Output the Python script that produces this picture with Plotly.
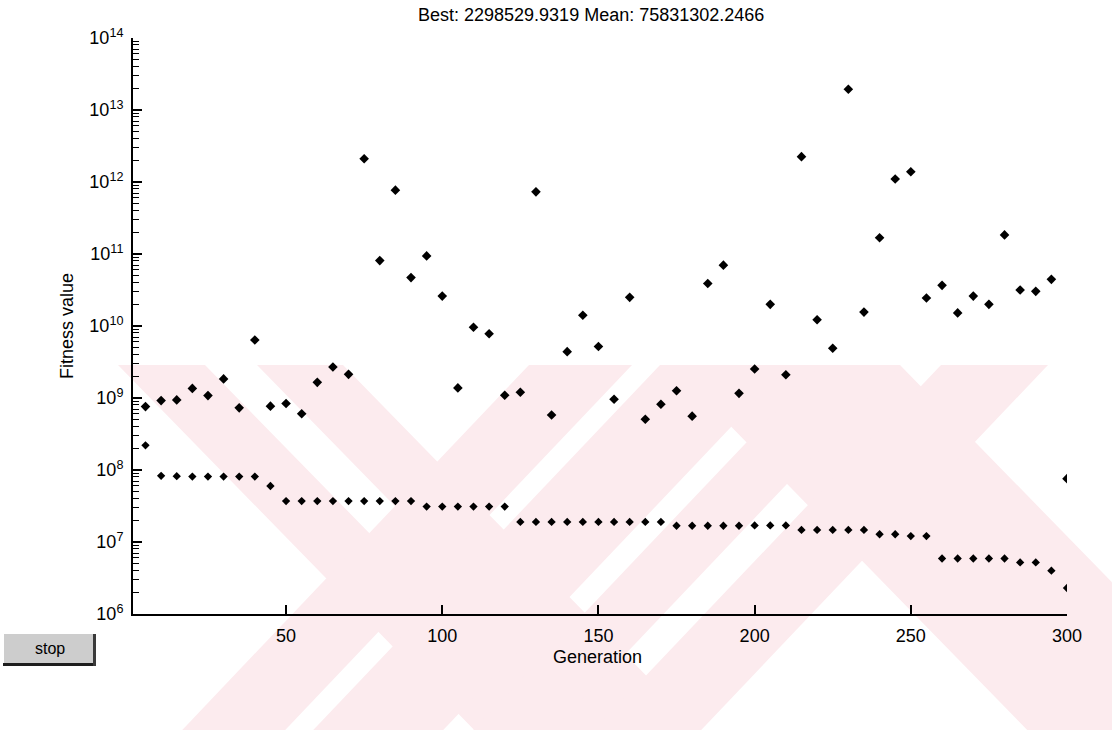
import plotly.graph_objects as go

# ---------------- data ----------------
generations = [5, 10, 15, 20, 25, 30, 35, 40, 45, 50,
               55, 60, 65, 70, 75, 80, 85, 90, 95, 100,
               105, 110, 115, 120, 125, 130, 135, 140, 145, 150,
               155, 160, 165, 170, 175, 180, 185, 190, 195, 200,
               205, 210, 215, 220, 225, 230, 235, 240, 245, 250,
               255, 260, 265, 270, 275, 280, 285, 290, 295, 300]

best_fitness = [2.2e8, 8.3e7, 8.2e7, 8.1e7, 8.1e7, 8.1e7, 8.1e7, 8.1e7, 6.0e7, 3.7e7,
                3.7e7, 3.7e7, 3.7e7, 3.7e7, 3.7e7, 3.7e7, 3.7e7, 3.7e7, 3.1e7, 3.1e7,
                3.1e7, 3.1e7, 3.1e7, 3.1e7, 1.9e7, 1.9e7, 1.9e7, 1.9e7, 1.9e7, 1.9e7,
                1.9e7, 1.9e7, 1.9e7, 1.9e7, 1.68e7, 1.68e7, 1.68e7, 1.68e7, 1.68e7, 1.7e7,
                1.7e7, 1.7e7, 1.47e7, 1.47e7, 1.47e7, 1.47e7, 1.47e7, 1.28e7, 1.28e7, 1.21e7,
                1.21e7, 5.9e6, 5.9e6, 5.9e6, 5.9e6, 5.9e6, 5.2e6, 5.2e6, 4.0e6, 2298529.9319]

mean_fitness = [7.6e8, 9.2e8, 9.4e8, 1.36e9, 1.08e9, 1.84e9, 7.3e8, 6.4e9, 7.7e8, 8.4e8,
                6.05e8, 1.65e9, 2.7e9, 2.13e9, 2.1e12, 8.1e10, 7.7e11, 4.7e10, 9.4e10, 2.6e10,
                1.38e9, 9.6e9, 7.8e9, 1.09e9, 1.2e9, 7.3e11, 5.8e8, 4.4e9, 1.41e10, 5.2e9,
                9.6e8, 2.5e10, 5.06e8, 8.2e8, 1.26e9, 5.6e8, 3.9e10, 7.0e10, 1.16e9, 2.53e9,
                2.0e10, 2.1e9, 2.25e12, 1.22e10, 4.9e9, 1.94e13, 1.56e10, 1.68e11, 1.1e12, 1.39e12,
                2.45e10, 3.67e10, 1.52e10, 2.6e10, 2.0e10, 1.84e11, 3.16e10, 3.03e10, 4.45e10, 75831302.2466]

y_tick_values = [1e6, 1e7, 1e8, 1e9, 1e10, 1e11, 1e12, 1e13, 1e14]
y_tick_labels = ["10<sup>6</sup>", "10<sup>7</sup>", "10<sup>8</sup>", "10<sup>9</sup>",
                 "10<sup>10</sup>", "10<sup>11</sup>", "10<sup>12</sup>", "10<sup>13</sup>",
                 "10<sup>14</sup>"]
x_tick_values = [50, 100, 150, 200, 250, 300]
x_tick_labels = ["50", "100", "150", "200", "250", "300"]

title_text = "Best: 2298529.9319 Mean: 75831302.2466"

# ---------------- layout geometry ----------------
W, H = 1112, 730
ML, MR, MT, MB = 133, 45, 38, 116
PW, PH = W - ML - MR, H - MT - MB


def px(x):
    return (x - ML) / PW


def py(y):
    return (H - MB - y) / PH


FONT = "Liberation Sans, Arial, sans-serif"

fig = go.Figure()
fig.add_trace(go.Scatter(x=generations, y=mean_fitness, mode="markers",
                         marker=dict(symbol="diamond", size=7.4, color="black"),
                         name="Mean fitness", showlegend=False, hoverinfo="x+y"))
fig.add_trace(go.Scatter(x=generations, y=best_fitness, mode="markers",
                         marker=dict(symbol="diamond", size=6.4, color="black"),
                         name="Best fitness", showlegend=False, hoverinfo="x+y"))

# ---------------- faint background watermark ----------------
PINK = "#fcebee"
Y0, Y1 = 365, 730
shapes = []


def poly(pts, color):
    path = "M " + " L ".join(f"{px(x):.5f},{py(y):.5f}" for x, y in pts) + " Z"
    return dict(type="path", xref="paper", yref="paper", path=path,
                fillcolor=color, line=dict(width=0), layer="below")


def band(a, b, slope):
    d = Y1 - Y0
    return poly([(a, Y0), (b, Y0), (b + slope * d, Y1), (a + slope * d, Y1)], PINK)


for a, b in [(118, 343), (671, 900)]:
    shapes.append(band(a, b, 0.976))
# tapered white strip inside the left "\" stroke
shapes.append(poly([(205, Y0), (257, Y0), (428, 540), (376, 540)], "white"))
for a, b in [(529, 632), (660, 790), (820, 900), (941, 1048)]:
    shapes.append(band(a, b, -0.95))

# ---------------- "stop" button ----------------
shapes.append(dict(type="rect", xref="paper", yref="paper",
                   x0=px(4), x1=px(96), y0=py(666), y1=py(634),
                   fillcolor="#cdcdcd", line=dict(width=0), layer="above"))
shapes.append(dict(type="rect", xref="paper", yref="paper",
                   x0=px(3), x1=px(96), y0=py(666), y1=py(663),
                   fillcolor="#1e1e1e", line=dict(width=0), layer="above"))
shapes.append(dict(type="rect", xref="paper", yref="paper",
                   x0=px(93), x1=px(96), y0=py(666), y1=py(634),
                   fillcolor="#3a3a3a", line=dict(width=0), layer="above"))

annotations = [
    dict(text=title_text, xref="paper", yref="paper", x=px(591), y=py(15),
         xanchor="center", yanchor="middle", showarrow=False,
         font=dict(family=FONT, size=18, color="black")),
    dict(text="Generation", xref="paper", yref="paper", x=px(597), y=py(657),
         xanchor="center", yanchor="middle", showarrow=False,
         font=dict(family=FONT, size=18, color="black")),
    dict(text="Fitness value", xref="paper", yref="paper", x=px(67), y=py(326),
         xanchor="center", yanchor="middle", showarrow=False, textangle=-90,
         font=dict(family=FONT, size=18, color="black")),
    dict(text="stop", xref="paper", yref="paper", x=px(50), y=py(648),
         xanchor="center", yanchor="middle", showarrow=False,
         font=dict(family=FONT, size=16, color="black")),
]

minor_vals = [k * 10 ** e for e in range(6, 14) for k in range(2, 10)]

fig.update_layout(
    width=W, height=H,
    margin=dict(l=ML, r=MR, t=MT, b=MB, pad=0),
    paper_bgcolor="white", plot_bgcolor="rgba(0,0,0,0)",
    font=dict(family=FONT, size=18, color="black"),
    showlegend=False,
    shapes=shapes,
    annotations=annotations,
    xaxis=dict(range=[1, 300], showgrid=False, zeroline=False,
               showline=True, linecolor="black", linewidth=2,
               ticks="inside", ticklen=9, tickwidth=1.5, tickcolor="black",
               tickmode="array", tickvals=x_tick_values, ticktext=x_tick_labels,
               tickfont=dict(family=FONT, size=18, color="black"),
               ticklabelstandoff=4),
    yaxis=dict(type="log", range=[6, 14], showgrid=False, zeroline=False,
               showline=True, linecolor="black", linewidth=2,
               ticks="inside", ticklen=9, tickwidth=1.5, tickcolor="black",
               tickmode="array", tickvals=y_tick_values, ticktext=y_tick_labels,
               tickfont=dict(family=FONT, size=18, color="black"),
               ticklabelstandoff=4,
               minor=dict(ticks="inside", ticklen=6, tickwidth=1.3,
                          tickcolor="black", tickmode="array", tickvals=minor_vals,
                          showgrid=False)),
)

fig.write_html("out.html")
